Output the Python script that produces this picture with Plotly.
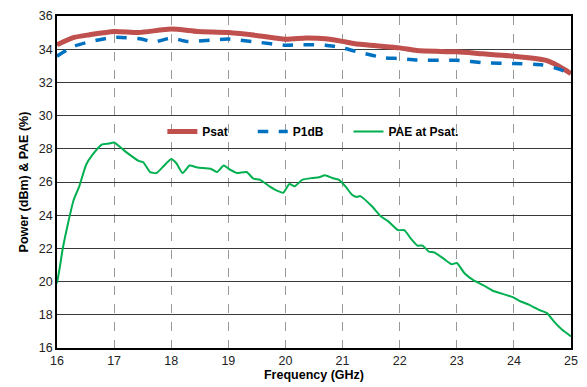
import plotly.graph_objects as go

psat_f = [16.0, 16.3, 16.57, 17.0, 17.43, 18.0, 18.46, 19.0, 19.49, 20.0, 20.36, 20.7, 21.0, 21.22,
          22.0, 22.3, 23.0, 23.45, 24.0, 24.55, 24.78, 25.0]
psat = [34.27, 34.71, 34.87, 35.07, 35.01, 35.21, 35.07, 35.0, 34.83, 34.6, 34.67, 34.63, 34.47, 34.33,
        34.08, 33.92, 33.84, 33.72, 33.58, 33.34, 32.99, 32.53]

p1db_f = [16.0, 16.3, 16.6, 17.0, 17.48, 17.69, 18.0, 18.28, 18.69, 19.0, 19.5, 20.0, 20.3, 20.7, 21.0,
          21.33, 21.74, 22.0, 22.3, 23.0, 23.5, 24.0, 24.5, 24.8, 25.0]
p1db = [33.58, 34.18, 34.47, 34.71, 34.61, 34.43, 34.67, 34.47, 34.54, 34.61, 34.43, 34.24, 34.27, 34.24, 34.08,
        33.78, 33.48, 33.44, 33.35, 33.33, 33.18, 33.14, 33.05, 32.79, 32.5]

pae_f = [16.0, 16.05, 16.1, 16.19, 16.29, 16.39, 16.51, 16.62, 16.79, 16.91, 17.0, 17.2, 17.43, 17.51,
         17.63, 17.74, 17.86, 18.0, 18.09, 18.2, 18.32, 18.46, 18.69, 18.8, 18.92, 19.03, 19.15, 19.32,
         19.44, 19.55, 19.72, 19.87, 19.96, 20.07, 20.16, 20.3, 20.47, 20.59, 20.69, 20.82, 20.93, 21.05,
         21.16, 21.25, 21.31, 21.51, 21.68, 21.79, 21.97, 22.08, 22.2, 22.31, 22.4, 22.51, 22.6, 22.77,
         22.91, 23.0, 23.14, 23.29, 23.46, 23.63, 23.86, 23.98, 24.12, 24.27, 24.44, 24.58, 24.7, 24.84,
         25.0]
pae = [19.9, 20.88, 21.98, 23.46, 24.9, 25.74, 27.04, 27.63, 28.26, 28.32, 28.38, 27.83, 27.27, 27.19,
       26.6, 26.54, 26.93, 27.39, 27.13, 26.54, 26.99, 26.87, 26.8, 26.6, 26.99, 26.74, 26.54, 26.6,
       26.2, 26.14, 25.74, 25.45, 25.35, 25.88, 25.74, 26.14, 26.24, 26.28, 26.4, 26.24, 26.14, 25.74,
       25.25, 25.1, 25.15, 24.55, 23.9, 23.66, 23.1, 23.1, 22.57, 22.17, 22.17, 21.81, 21.77, 21.38,
       21.04, 21.12, 20.49, 20.09, 19.79, 19.45, 19.2, 19.06, 18.8, 18.6, 18.3, 18.1, 17.6, 17.11,
       16.7]

x_ticks = [16, 17, 18, 19, 20, 21, 22, 23, 24, 25]
y_ticks = [16, 18, 20, 22, 24, 26, 28, 30, 32, 34, 36]

pad = "&nbsp;" * 6
fig = go.Figure()
fig.add_trace(go.Scatter(x=psat_f, y=psat, mode="lines", name="<b>Psat</b>" + pad,
                         line=dict(color="#C0504D", width=5, shape="spline", smoothing=0.6)))
fig.add_trace(go.Scatter(x=p1db_f, y=p1db, mode="lines", name="<b>P1dB</b>" + pad,
                         line=dict(color="#0070C0", width=3.5, dash="dash", shape="spline", smoothing=0.6)))
fig.add_trace(go.Scatter(x=pae_f, y=pae, mode="lines", name="<b>PAE at Psat.</b>",
                         line=dict(color="#00B050", width=2, shape="spline", smoothing=0.5)))

font = "Liberation Sans, Arial, sans-serif"
fig.update_layout(
    width=587, height=387,
    margin=dict(l=57, r=9, t=13, b=38),
    paper_bgcolor="white", plot_bgcolor="white",
    font=dict(family=font, size=12, color="#222"),
    showlegend=True,
    legend=dict(orientation="h", x=0.205, y=0.652, xanchor="left", yanchor="middle",
                bgcolor="rgba(0,0,0,0)", font=dict(size=12, color="black", family=font),
                itemwidth=30, traceorder="normal"),
    xaxis=dict(range=[16, 25], tickvals=x_ticks, showgrid=True, gridcolor="#999",
               griddash="dash", gridwidth=1, showline=True, linecolor="black", linewidth=1.5,
               mirror=True, ticks="", zeroline=False, tickfont=dict(size=12.5, color="#222"),
               title=dict(text="<b>Frequency (GHz)</b>", font=dict(size=12.5, color="black"), standoff=1)),
    yaxis=dict(range=[16, 36], tickvals=y_ticks, showgrid=True, gridcolor="#3a3a3a", gridwidth=1.2,
               showline=True, linecolor="black", linewidth=1.5, mirror=True, ticks="", zeroline=False,
               tickfont=dict(size=12.5, color="#222"),
               title=dict(text="<b>Power (dBm) & PAE (%)</b>", font=dict(size=12.5, color="black"), standoff=7)),
)
fig.write_html("out.html")
